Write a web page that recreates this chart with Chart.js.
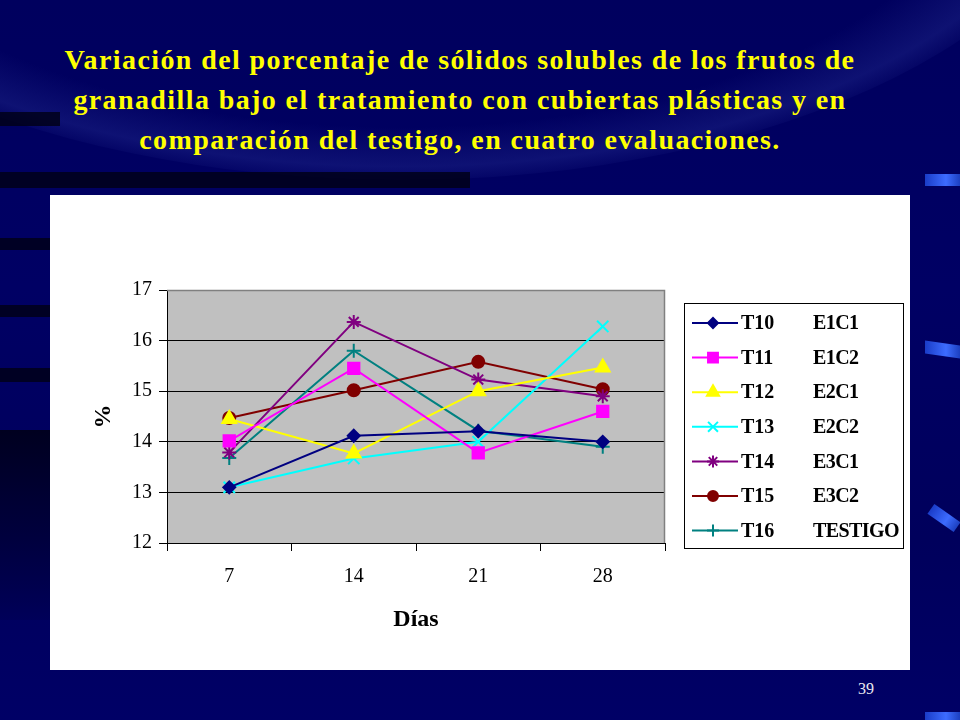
<!DOCTYPE html>
<html>
<head>
<meta charset="utf-8">
<script src="https://cdn.jsdelivr.net/npm/chart.js@4/dist/chart.umd.min.js"></script>
<style>
html, body { margin: 0; padding: 0; }
body {
    width: 960px; height: 720px; overflow: hidden; position: relative;
    background: linear-gradient(180deg, #00005e 0%, #000064 40%, #00005c 75%, #000066 100%);
    font-family: "Liberation Serif", "Times New Roman", serif;
}
.arc {
    position: absolute; left: -300px; top: -520px; width: 1400px; height: 700px;
    border-radius: 50%; background: radial-gradient(ellipse at center, rgba(30,40,140,0) 60%, rgba(40,50,150,0.35) 68%, rgba(0,0,60,0) 72%);
}
.stripe { position: absolute; left: 0; background: rgba(0,0,20,0.8); }
.deco { position: absolute; background: linear-gradient(90deg, #1a3cc8, #3d6cff 60%, #1c3fc0); }
h1 {
    position: absolute; left: 0; top: 40px; width: 920px; margin: 0;
    color: #ffff00; font-size: 28px; line-height: 40px; font-weight: bold; text-align: center;
    letter-spacing: 1.4px;
}
.panel { position: absolute; left: 50px; top: 195px; width: 860px; height: 475px; background: #ffffff; }
.pagenum { position: absolute; left: 858px; top: 680px; color: #e8e8f0; font-size: 16px; }
</style>
</head>
<body>
<div class="arc"></div>
<div class="stripe" style="top:112px;width:60px;height:14px"></div>
<div class="stripe" style="top:172px;width:470px;height:16px"></div>
<div class="stripe" style="top:238px;width:50px;height:12px"></div>
<div class="stripe" style="top:305px;width:50px;height:12px"></div>
<div class="stripe" style="top:368px;width:50px;height:14px"></div>
<div class="stripe" style="top:430px;width:50px;height:190px;background:linear-gradient(180deg,rgba(0,0,20,0.85),rgba(0,0,60,0.2))"></div>
<div class="deco" style="left:925px;top:174px;width:35px;height:12px"></div>
<div class="deco" style="left:925px;top:343px;width:35px;height:13px;transform:skewY(8deg)"></div>
<div class="deco" style="left:928px;top:512px;width:32px;height:12px;transform:rotate(35deg)"></div>
<div class="deco" style="left:925px;top:712px;width:35px;height:10px"></div>

<h1>Variación del porcentaje de sólidos solubles de los frutos de<br>granadilla bajo el tratamiento con cubiertas plásticas y en<br>comparación del testigo, en cuatro evaluaciones.</h1>

<div class="panel"><canvas id="chart" width="860" height="475"></canvas></div>
<div class="pagenum">39</div>

<script>
'use strict'

//días de evaluación
const dias = ['7', '14', '21', '28'];
//tratamientos
const tratamientos = ['T10', 'T11', 'T12', 'T13', 'T14', 'T15', 'T16'];
const codigos = ['E1C1', 'E1C2', 'E2C1', 'E2C2', 'E3C1', 'E3C2', 'TESTIGO'];
//% sólidos solubles
const t10 = [13.1, 14.12, 14.21, 14.0];
const t11 = [14.02, 15.45, 13.78, 14.6];
const t12 = [14.45, 13.77, 15.0, 15.47];
const t13 = [13.1, 13.67, 14.0, 16.28];
const t14 = [13.79, 16.37, 15.23, 14.9];
const t15 = [14.47, 15.02, 15.58, 15.04];
const t16 = [13.68, 15.8, 14.22, 13.9];
//eje y
const yTicks = [12, 13, 14, 15, 16, 17];

const valores = [t10, t11, t12, t13, t14, t15, t16];
const colores = ['#000080', '#ff00ff', '#ffff00', '#00ffff', '#800080', '#800000', '#008080'];
const marcas = ['rectRot', 'rect', 'triangle', 'crossRot', 'star', 'circle', 'cross'];
const radios = [6, 8, 8, 8, 7, 6, 7];

const serif = '"Liberation Serif", "Times New Roman", serif';

//fondo gris del area de trazado
const plotBackground = {
    id: 'plotBackground',
    beforeDraw(chart){
        const {ctx, chartArea: a} = chart;
        ctx.save();
        ctx.fillStyle = '#c0c0c0';
        ctx.fillRect(a.left, a.top, a.right - a.left, a.bottom - a.top);
        ctx.restore();
    },
    afterDatasetsDraw(chart){
        const {ctx, chartArea: a} = chart;
        ctx.save();
        ctx.strokeStyle = '#808080';
        ctx.lineWidth = 1.5;
        ctx.beginPath();
        ctx.moveTo(a.left, a.top + 0.5);
        ctx.lineTo(a.right - 0.5, a.top + 0.5);
        ctx.lineTo(a.right - 0.5, a.bottom);
        ctx.stroke();
        ctx.restore();
    }
};

//leyenda con dos columnas
const boxLegend = {
    id: 'boxLegend',
    afterDraw(chart){
        const ctx = chart.ctx;
        const x = 634, y = 108, w = 219, h = 245;
        ctx.save();
        ctx.fillStyle = '#ffffff';
        ctx.fillRect(x, y, w, h);
        ctx.strokeStyle = '#000000';
        ctx.lineWidth = 1;
        ctx.strokeRect(x + 0.5, y + 0.5, w, h);
        chart.data.datasets.forEach((ds, i) => {
            const cy = y + 20 + i * 34.6;
            ctx.strokeStyle = ds.borderColor;
            ctx.lineWidth = 2;
            ctx.beginPath();
            ctx.moveTo(x + 8, cy);
            ctx.lineTo(x + 54, cy);
            ctx.stroke();
            ctx.fillStyle = ds.backgroundColor;
            ctx.strokeStyle = ds.borderColor;
            Chart.helpers.drawPoint(ctx, {pointStyle: ds.pointStyle, radius: ds.pointRadius - 1, borderWidth: 2}, x + 29, cy);
            ctx.fillStyle = '#000000';
            ctx.font = 'bold 20px ' + serif;
            ctx.textBaseline = 'middle';
            ctx.textAlign = 'left';
            ctx.letterSpacing = '0px';
            ctx.fillText(ds.label, x + 57, cy + 1);
            //segunda columna un poco apretada como en el original
            ctx.letterSpacing = '-0.6px';
            ctx.fillText(codigos[i], x + 129, cy + 1);
        });
        ctx.restore();
    }
};

new Chart(document.getElementById('chart'), {
    type: 'line',
    data: {
        labels: dias,
        datasets: tratamientos.map((t, i) => ({
            label: t,
            data: valores[i],
            borderColor: colores[i],
            backgroundColor: colores[i],
            borderWidth: 2,
            pointStyle: marcas[i],
            pointRadius: radios[i],
            pointBorderWidth: 2,
            tension: 0
        }))
    },
    options: {
        responsive: false,
        animation: false,
        layout: { padding: { top: 95, right: 245, left: 0, bottom: 0 } },
        plugins: { legend: { display: false }, tooltip: { enabled: false } },
        scales: {
            x: {
                offset: true,
                afterFit: (scale) => { scale.height = 127; },
                grid: { offset: true, drawOnChartArea: false, color: '#000000', tickLength: 8 },
                border: { color: '#000000', width: 1 },
                ticks: { color: '#000000', font: { family: serif, size: 20 }, padding: 14, maxRotation: 0 },
                title: { display: true, text: 'Días', color: '#000000', font: { family: serif, size: 24, weight: 'bold' }, padding: { top: 36, bottom: 36 } }
            },
            y: {
                min: 12,
                max: 17,
                afterFit: (scale) => { scale.width = 117; },
                afterBuildTicks: (scale) => { scale.ticks = yTicks.map(v => ({ value: v })); },
                grid: { color: '#000000', tickLength: 8 },
                border: { color: '#000000', width: 1 },
                ticks: { color: '#000000', font: { family: serif, size: 20 }, padding: 7 },
                title: { display: true, text: '%', color: '#000000', font: { family: serif, size: 24, weight: 'bold' }, padding: { top: 39, bottom: 39 } }
            }
        }
    },
    plugins: [plotBackground, boxLegend]
});
</script>
</body>
</html>
